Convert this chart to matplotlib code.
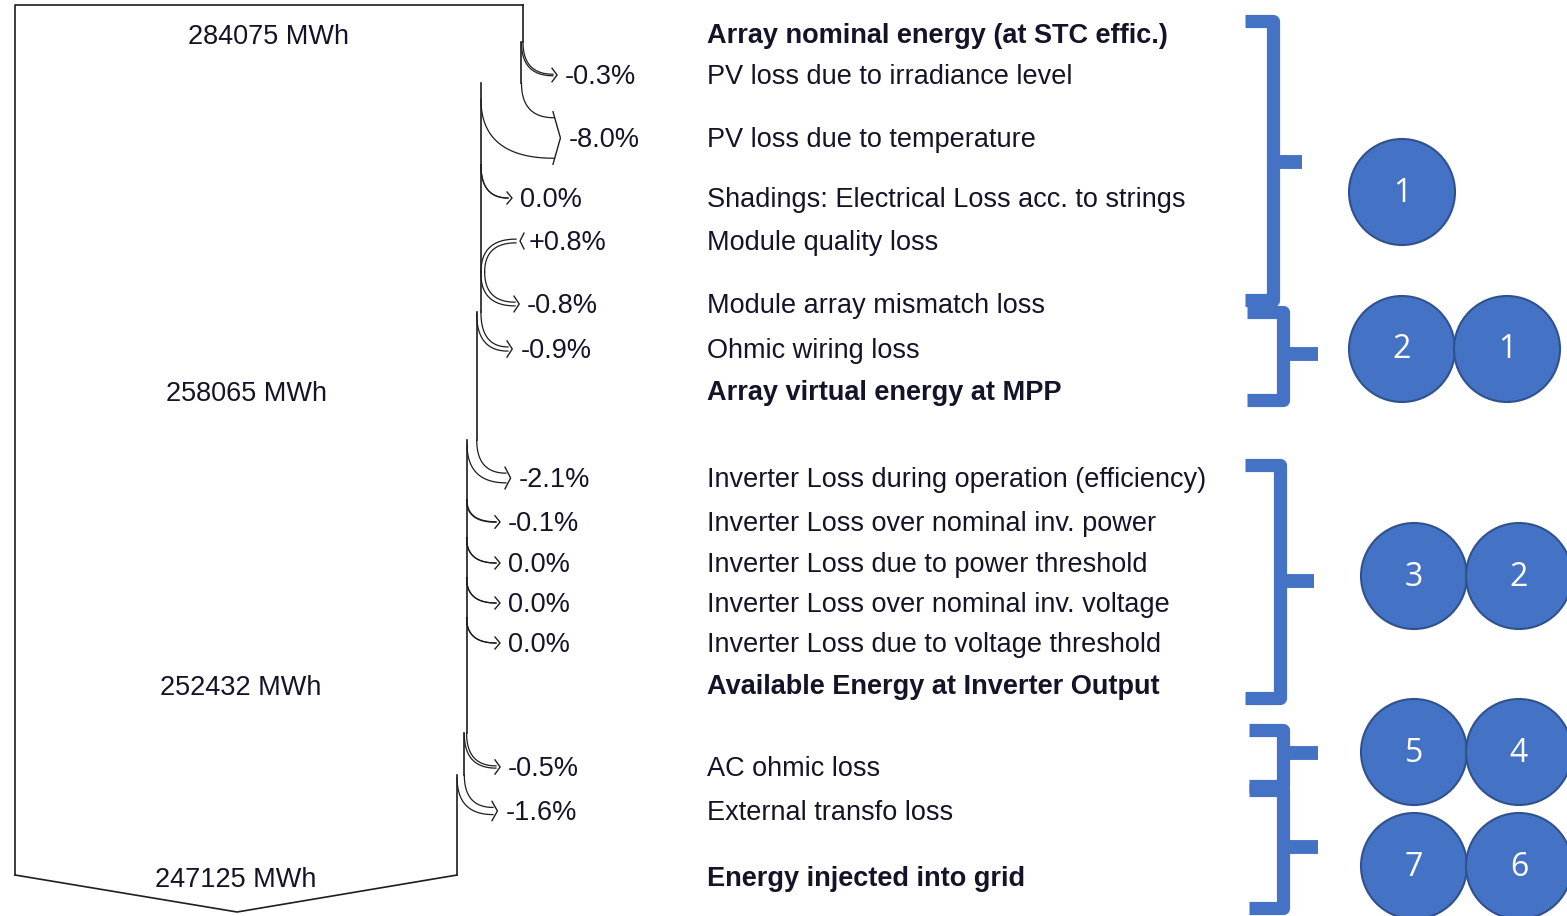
import numpy as np
import matplotlib
matplotlib.use("Agg")
import matplotlib.pyplot as plt
from matplotlib.patches import Circle

# ---- data -------------------------------------------------------------
row_labels = [
    "Array nominal energy (at STC effic.)",
    "PV loss due to irradiance level",
    "PV loss due to temperature",
    "Shadings: Electrical Loss acc. to strings",
    "Module quality loss",
    "Module array mismatch loss",
    "Ohmic wiring loss",
    "Array virtual energy at MPP",
    "Inverter Loss during operation (efficiency)",
    "Inverter Loss over nominal inv. power",
    "Inverter Loss due to power threshold",
    "Inverter Loss over nominal inv. voltage",
    "Inverter Loss due to voltage threshold",
    "Available Energy at Inverter Output",
    "AC ohmic loss",
    "External transfo loss",
    "Energy injected into grid",
]
row_pct = [None, -0.3, -8.0, 0.0, 0.8, -0.8, -0.9, None,
           -2.1, -0.1, 0.0, 0.0, 0.0, None, -0.5, -1.6, None]
total_mwh = [284075, 258065, 252432, 247125]
group_numbers = [["1"], ["2", "1"], ["3", "2"], ["5", "4"], ["7", "6"]]

# ---- layout (pixel units) ---------------------------------------------
W, H = 1567, 916
row_y = [34, 75, 138, 198, 241, 304, 349, 391, 478, 522, 563, 603, 643,
         685, 767, 811, 877]
arrow_start = [42, 83, 165, 272, 272, 312, 440, 500, 538, 578, 618, 733, 775]
arrow_tip = [557, 558, 512, 520, 519, 512, 510, 500, 500, 500, 500, 500, 497]
box_left, box_top, box_bottom, box_width = 15, 5, 875, 508
label_x = 707
text_dy = 2
line_col = "#1e1e1e"
text_col = "#141428"
blue = "#4472C4"
blue_edge = "#2F528F"

braces = [  # x_left, x_vert, x_tip, y_top, y_mid, y_bot
    (1245, 1273, 1302, 21, 162, 300),
    (1247, 1283, 1318, 312, 354, 400),
    (1245, 1280, 1314, 465, 581, 698),
    (1249, 1283, 1318, 730, 753, 786),
    (1249, 1283, 1318, 790, 847, 908),
]
circle_rows = [192, 349, 576, 752, 866]
circle_x0 = [1402, 1402, 1414, 1414, 1414]
circle_r = 53

fig = plt.figure(figsize=(W / 100, H / 100), dpi=100)
ax = fig.add_axes([0, 0, 1, 1])
ax.set_xlim(0, W)
ax.set_ylim(H, 0)
ax.axis("off")

font = ["Liberation Sans", "DejaVu Sans"]
fs = 19.5
scale = box_width / total_mwh[0]


def bez(p0, p1, p2, n=40):
    t = np.linspace(0, 1, n)[:, None]
    p0, p1, p2 = map(np.array, (p0, p1, p2))
    return (1 - t) ** 2 * p0 + 2 * (1 - t) * t * p1 + t ** 2 * p2


def fmt_pct(p):
    if p == 0:
        return "0.0%"
    return f"{p:+.1f}%"


# energy flow
energy = total_mwh[0]
x_r = box_left + energy * scale
ax.plot([box_left, box_left, x_r], [box_bottom, box_top, box_top],
        color=line_col, lw=1.2)
seg_top = box_top
k = 0
for i, p in enumerate(row_pct):
    if p is None:
        continue
    y = row_y[i]
    ys = arrow_start[k]
    tip = arrow_tip[k]
    # vertical edge up to this arrow
    ax.plot([x_r, x_r], [seg_top, ys], color=line_col, lw=1.2)
    w = abs(p) / 100 * energy * scale
    xe = tip - 4
    if p <= 0:
        a = bez((x_r, ys), (x_r, y - w / 2), (xe, y - w / 2))
        b = bez((x_r - w, ys + 0.4 * w), (x_r - w, y + w / 2), (xe, y + w / 2))
        hx = [tip - 5, tip + 0.06 * w, tip - 5]
        new_x = x_r - w
    else:
        a = bez((x_r, ys), (x_r, y - w / 2), (xe, y - w / 2))
        b = bez((x_r + w, ys), (x_r + w, y + w / 2), (xe, y + w / 2))
        hx = [tip + 4, tip, tip + 4]
        new_x = x_r + w
    ax.plot(a[:, 0], a[:, 1], color=line_col, lw=0.9)
    ax.plot(b[:, 0], b[:, 1], color=line_col, lw=0.9)
    ax.plot(hx, [y - w / 2 - 6, y, y + w / 2 + 6], color=line_col, lw=1.0)
    ax.text(tip + 8 + 0.06 * w, y + text_dy, fmt_pct(p), fontsize=fs,
            family=font, color=text_col, va="center", ha="left")
    energy = energy * (1 + p / 100)
    x_r = new_x
    seg_top = ys
    k += 1
ax.plot([x_r, x_r], [seg_top, box_bottom], color=line_col, lw=1.2)
ax.plot([box_left, (box_left + x_r) / 2 + 1, x_r],
        [box_bottom, 912, box_bottom], color=line_col, lw=1.2)

# labels
t = 0
edge_x = [523, 477, 467, 457]
for i, lab in enumerate(row_labels):
    bold = row_pct[i] is None
    ax.text(label_x, row_y[i] + text_dy, lab, fontsize=fs, family=font,
            color=text_col, va="center", ha="left",
            fontweight="bold" if bold else "normal")
    if bold:
        ax.text((box_left + edge_x[t]) / 2, row_y[i] + text_dy + 1,
                f"{total_mwh[t]} MWh", fontsize=fs, family=font,
                color=text_col, va="center", ha="center")
        t += 1

# braces
for xl, xv, xt, yt, ym, yb in braces:
    ax.plot([xl, xv, xv, xl], [yt, yt, yb, yb], color=blue, lw=9.5,
            solid_joinstyle="round", solid_capstyle="butt")
    ax.plot([xv, xt], [ym, ym], color=blue, lw=10, solid_capstyle="butt")

# numbered circles
for cy, cx, nums in zip(circle_rows, circle_x0, group_numbers):
    for j, n in enumerate(nums):
        x = cx + j * 2 * circle_r - j * 1
        ax.add_patch(Circle((x, cy), circle_r, facecolor=blue,
                            edgecolor=blue_edge, lw=1.5))
        ax.text(x, cy + 1, n, fontsize=23, family=["Open Sans", "DejaVu Sans"],
                color="white", ha="center", va="center")

fig.savefig("out.png", dpi=100)
